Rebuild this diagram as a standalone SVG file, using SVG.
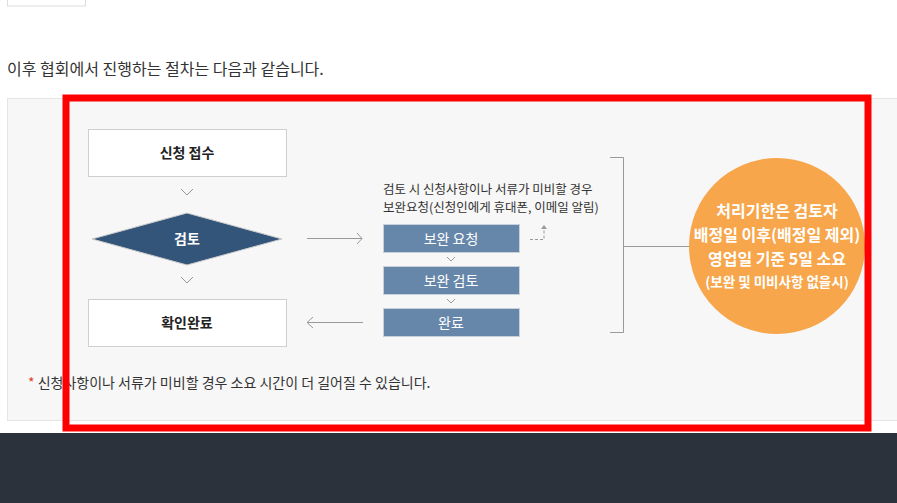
<svg xmlns="http://www.w3.org/2000/svg" width="897" height="503" viewBox="0 0 897 503">
<style>
text{font-family:"Noto Sans CJK KR","Noto Sans",sans-serif}
.box{fill:#fff;stroke:#cfcfcf}
.blue{fill:#6787aa;stroke:#c8d0da}
.ln{stroke:#999;stroke-width:1;fill:none}
.wt{fill:#fff;font-size:14px;text-anchor:middle}
</style>
<rect width="897" height="503" fill="#fff"/>
<rect x="7.5" y="-10" width="78" height="16" fill="#fff" stroke="#ddd"/>
<text x="7" y="75" font-size="16" fill="#333">이후 협회에서 진행하는 절차는 다음과 같습니다.</text>
<rect x="7.5" y="98.5" width="895" height="322" fill="#f7f7f7" stroke="#e5e5e5"/>
<rect x="0" y="433" width="897" height="70" fill="#2b323b"/>
<g id="n1"><rect class="box" x="88.5" y="129.5" width="198" height="47"/><text x="187" y="158" font-size="14" font-weight="bold" text-anchor="middle" fill="#222">신청 접수</text></g>
<g id="n2"><polygon points="92,239 187,213 282,239 187,265" fill="#34557a" stroke="#ccc"/><text x="187" y="244" class="wt" font-weight="bold">검토</text></g>
<g id="n3"><rect class="box" x="88.5" y="299.5" width="198" height="47"/><text x="187" y="328" font-size="14" font-weight="bold" text-anchor="middle" fill="#222">확인완료</text></g>
<g id="note"><text x="383" y="194" font-size="12.5" fill="#333">검토 시 신청사항이나 서류가 미비할 경우</text><text x="383" y="212" font-size="12.5" fill="#333">보완요청(신청인에게 휴대폰, 이메일 알림)</text></g>
<g id="b1"><rect class="blue" x="383.5" y="224.5" width="136" height="28"/><text x="451" y="243.5" class="wt">보완 요청</text></g>
<g id="b2"><rect class="blue" x="383.5" y="266.5" width="136" height="28"/><text x="451" y="285.5" class="wt">보완 검토</text></g>
<g id="b3"><rect class="blue" x="383.5" y="308.5" width="136" height="28"/><text x="451" y="327.5" class="wt">완료</text></g>
<g id="circ"><circle cx="777" cy="246" r="88" fill="#f7a64b"/>
<text x="777" y="217" class="wt" style="font-size:16px" font-weight="bold">처리기한은 검토자</text>
<text x="777" y="241" class="wt" style="font-size:16px" font-weight="bold">배정일 이후(배정일 제외)</text>
<text x="777" y="265" class="wt" style="font-size:16px" font-weight="bold">영업일 기준 5일 소요</text>
<text x="777" y="287" class="wt" style="font-size:13.5px" font-weight="bold">(보완 및 미비사항 없을시)</text></g>
<g id="connectors">
<path class="ln" d="M181,189 L187,195 L193,189 M181,277 L187,283 L193,277"/>
<path class="ln" d="M307,238.5 H362 M357,233 L362,238.5 L357,244"/>
<path class="ln" d="M363,322.5 H307 M313,317 L307,322.5 L313,328"/>
<path class="ln" d="M447,257 L451,261 L455,257 M447,299 L451,303 L455,299"/>
<path d="M530,239.5 H544 V228" stroke="#999" stroke-dasharray="3,2" fill="none"/>
<polygon points="541,229 544,225 547,229" fill="#999"/>
<path class="ln" d="M610,157.5 H623.5 V332.5 H610 M623.5,246.5 H689"/>
</g>
<text x="28" y="388" font-size="14" fill="#333"><tspan fill="#e2421f">*</tspan> 신청사항이나 서류가 미비할 경우 소요 시간이 더 길어질 수 있습니다.</text>
<rect x="66" y="98" width="802" height="330" fill="none" stroke="#ff0000" stroke-width="7"/>
</svg>
